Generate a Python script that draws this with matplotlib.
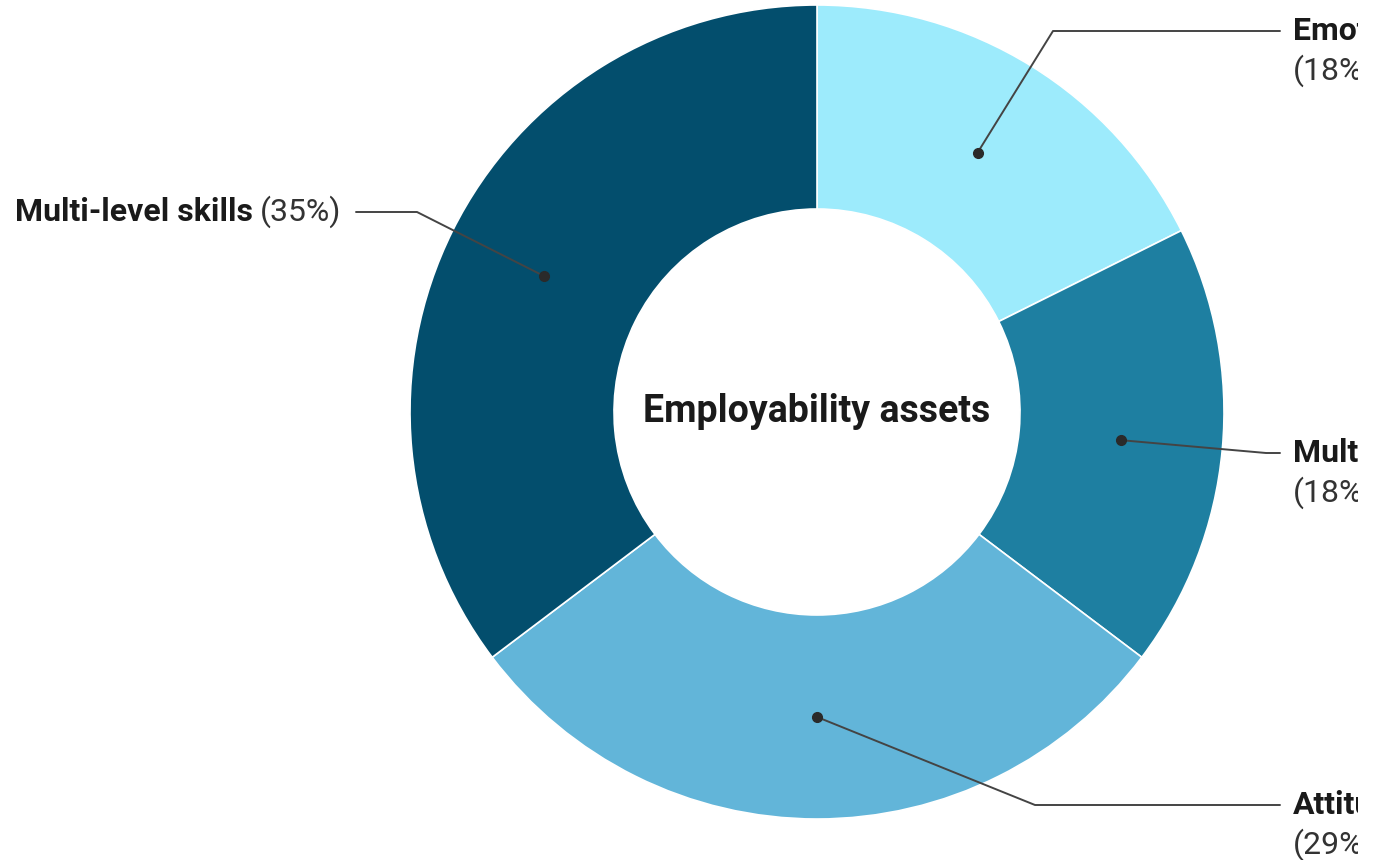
import numpy as np
import matplotlib.pyplot as plt
from matplotlib.transforms import Bbox

plt.rcParams['font.family'] = ['Roboto', 'DejaVu Sans']

# data
names = ["Emotional intelligence", "Multidisciplinary knowledge", "Attitudes", "Multi-level skills"]
counts = [6, 6, 10, 12]
pct_labels = ["18%", "18%", "29%", "35%"]
colors = ["#9DEBFC", "#1E7FA1", "#62B5D9", "#034E6D"]
center_title = "Employability assets"

W, H = 1380, 860
fig = plt.figure(figsize=(W / 100, H / 100), dpi=100)
ax = fig.add_axes([0, 0, 1, 1])

cx, cy = 817, H - 412
R_out, R_in = 407, 203

wedges, _ = ax.pie(counts, colors=colors, startangle=90, counterclock=False,
                   radius=R_out, center=(cx, cy),
                   wedgeprops=dict(width=R_out - R_in, edgecolor="white", linewidth=1.2))
ax.set_xlim(0, W)
ax.set_ylim(0, H)
ax.set_aspect("equal")
ax.axis("off")

ax.text(cx, cy, center_title, ha="center", va="center", fontsize=27,
        fontweight="bold", color="#1a1a1a")

# label layout (pixel coords from top)
elbows = [(1053, 31), (1266, 453), (1035, 805), (417, 212)]
line_ends = [1280, 1280, 1280, 356]
line_col = "#444444"
fs = 23
# the source image cuts the right-hand labels off a little before the edge
clip = Bbox([[0, 0], [1358, H]])

r_mid = (R_out + R_in) / 2
for i, w in enumerate(wedges):
    ang = np.deg2rad((w.theta1 + w.theta2) / 2)
    px, py = cx + r_mid * np.cos(ang), cy + r_mid * np.sin(ang)
    ex, ey = elbows[i][0], H - elbows[i][1]
    ax.plot([px, ex, line_ends[i]], [py, ey, ey], color=line_col, lw=1.4,
            solid_capstyle="round", zorder=5)
    ax.plot(px, py, "o", color="#2a2a2a", ms=7, zorder=6)

    if line_ends[i] > cx:
        t1 = ax.text(1293, ey, names[i], ha="left", va="center", fontsize=fs,
                     fontweight="bold", color="#1a1a1a")
        t2 = ax.text(1293, ey - 40, "(" + pct_labels[i] + ")", ha="left", va="center",
                     fontsize=fs, color="#333333")
        for t in (t1, t2):
            t.set_clip_box(clip)
            t.set_clip_on(True)
    else:
        t = ax.text(341, ey, "(" + pct_labels[i] + ")", ha="right", va="center",
                    fontsize=fs, color="#333333")
        fig.canvas.draw()
        bb = t.get_window_extent()
        ax.text(bb.x0 - 7, ey, names[i], ha="right", va="center", fontsize=fs,
                fontweight="bold", color="#1a1a1a")

fig.savefig("out.png", dpi=100, facecolor="white")
plt.close(fig)
